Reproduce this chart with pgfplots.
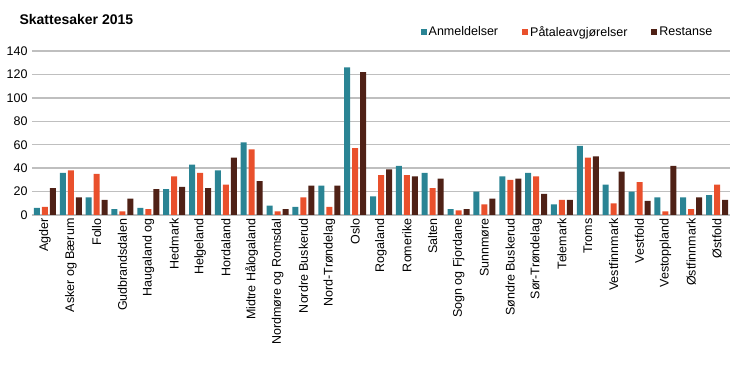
\documentclass[border=0pt]{standalone}
\usepackage{pgfplots}
\pgfplotsset{compat=1.18}
\usepackage{fontspec}
\setmainfont{Liberation Sans}
\definecolor{cA}{HTML}{2A8494}
\definecolor{cP}{HTML}{E9502C}
\definecolor{cR}{HTML}{4F2116}
\definecolor{gridc}{HTML}{BFBFBF}
\begin{document}
\begin{tikzpicture}[x=1pt,y=1pt]
\useasboundingbox (0,0) rectangle (730,366);
\node[anchor=west,font=\fontsize{14}{16}\selectfont\bfseries] at (16,346) {Skattesaker 2015};
\begin{axis}[
  at={(32pt,151pt)}, anchor=south west,
  scale only axis, width=698pt, height=164pt,
  ybar=2pt, bar width=6pt,
  xmin=-0.5, xmax=26.5, ymin=0, ymax=140,
  ytick={0,20,...,140},
  xtick={0,...,26},
  xticklabels={Agder,Asker og Bærum,Follo,Gudbrandsdalen,Haugaland og,Hedmark,Helgeland,Hordaland,Midtre Hålogaland,Nordmøre og Romsdal,Nordre Buskerud,Nord-Trøndelag,Oslo,Rogaland,Romerike,Salten,Sogn og Fjordane,Sunnmøre,Søndre Buskerud,Sør-Trøndelag,Telemark,Troms,Vestfinnmark,Vestfold,Vestoppland,Østfinnmark,Østfold},
  xticklabel style={rotate=90, anchor=east, font=\fontsize{12.5}{14}\selectfont},
  yticklabel style={font=\fontsize{12.5}{14}\selectfont, xshift=-1pt},
  /pgf/number format/assume math mode=true,
  major tick length=0pt,
  ymajorgrids, grid style={gridc, line width=1.3pt},
  axis x line*=bottom, axis y line*=left,
  x axis line style={gridc, line width=1.3pt, -},
  y axis line style={draw=none},
  legend style={at={(0.982,1.116)}, anchor=east, draw=none, fill=none,
    legend columns=3, font=\fontsize{12.5}{14}\selectfont,
    /tikz/every even column/.append style={column sep=22pt}},
  legend cell align=left,
]
\addplot[fill=cA, draw=none, legend image code/.code={\fill[cA] (0pt,-3pt) rectangle (6pt,3pt);}] coordinates {
(0,6)(1,36)(2,15)(3,5)(4,6)(5,22)(6,43)(7,38)(8,62)(9,8)(10,7)(11,25)(12,126)
(13,16)(14,42)(15,36)(16,5)(17,20)(18,33)(19,36)(20,9)(21,59)(22,26)(23,20)(24,15)(25,15)(26,17)};
\addplot[fill=cP, draw=none, legend image code/.code={\fill[cP] (0pt,-3pt) rectangle (6pt,3pt);}] coordinates {
(0,7)(1,38)(2,35)(3,3)(4,5)(5,33)(6,36)(7,26)(8,56)(9,3)(10,15)(11,7)(12,57)
(13,34)(14,34)(15,23)(16,4)(17,9)(18,30)(19,33)(20,13)(21,49)(22,10)(23,28)(24,3)(25,5)(26,26)};
\addplot[fill=cR, draw=none, legend image code/.code={\fill[cR] (0pt,-3pt) rectangle (6pt,3pt);}] coordinates {
(0,23)(1,15)(2,13)(3,14)(4,22)(5,24)(6,23)(7,49)(8,29)(9,5)(10,25)(11,25)(12,122)
(13,39)(14,33)(15,31)(16,5)(17,14)(18,31)(19,18)(20,13)(21,50)(22,37)(23,12)(24,42)(25,15)(26,13)};
\legend{Anmeldelser,Påtaleavgjørelser,Restanse}
\end{axis}
\end{tikzpicture}
\end{document}
